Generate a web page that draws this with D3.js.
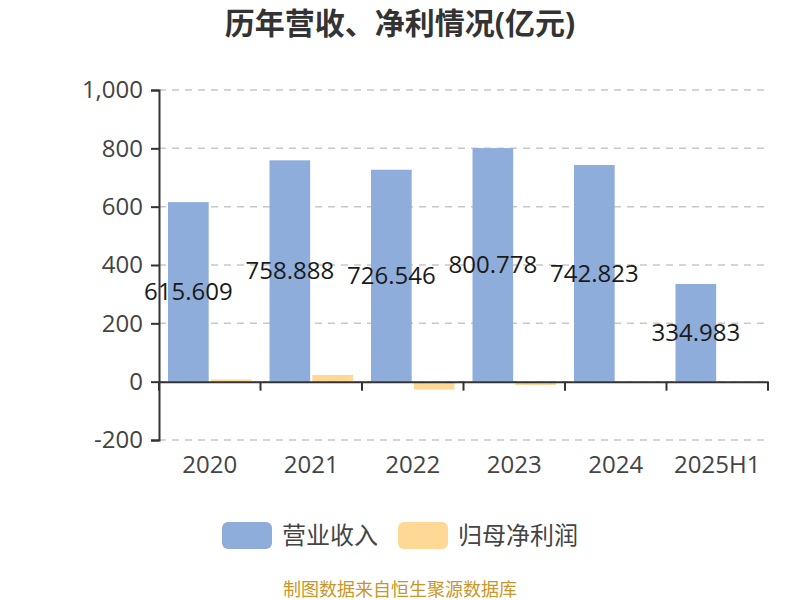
<!DOCTYPE html>
<html>
<head>
<meta charset="utf-8">
<script src="https://cdn.jsdelivr.net/npm/d3@7"></script>
<style>
  body { margin: 0; background: #fff; }
  text { font-family: "Open Sans", "Noto Sans CJK SC", sans-serif; }
</style>
</head>
<body>
<div id="chart"></div>
<script>
// chart data
const years = ["2020", "2021", "2022", "2023", "2024", "2025H1"];
const revenue = [615.609, 758.888, 726.546, 800.778, 742.823, 334.983];
const netProfit = [7.5, 23.0, -27.0, -11.5, 2.0, 1.0];
const yTicks = [-200, 0, 200, 400, 600, 800, 1000];
const seriesNames = ["营业收入", "归母净利润"];
const seriesColors = ["#8eaddb", "#fed995"];

const svgWidth = 800;
const svgHeight = 600;
const margin = { top: 90, right: 32, bottom: 160, left: 159 };
const width = svgWidth - margin.left - margin.right;
const height = svgHeight - margin.top - margin.bottom;

// plain hyphen for negatives, like the original
const fmt = d3.formatLocale({ decimal: ".", thousands: ",", grouping: [3], currency: ["", ""], minus: "-" }).format(",");

const svg = d3.select("#chart")
    .append("svg")
    .attr("width", svgWidth)
    .attr("height", svgHeight);

const g = svg.append("g")
    .attr("transform", `translate(${margin.left},${margin.top})`);

// scales
const x = d3.scaleBand()
    .domain(years)
    .range([0, width]);

const x1 = d3.scaleBand()
    .domain([0, 1])
    .range([9, x.bandwidth() - 9])
    .paddingInner(0.05);

const y = d3.scaleLinear()
    .domain([-200, 1000])
    .range([height, 0]);

// dashed grid lines
g.selectAll(".grid")
    .data(yTicks)
    .enter()
    .append("line")
    .attr("x1", 0)
    .attr("x2", width)
    .attr("y1", d => y(d))
    .attr("y2", d => y(d))
    .attr("stroke", "#c8c8c8")
    .attr("stroke-width", 1.5)
    .attr("stroke-dasharray", "7,6");

// bars, one group per year
const groups = g.selectAll(".year")
    .data(years)
    .enter()
    .append("g")
    .attr("transform", d => `translate(${x(d)},0)`);

groups.append("rect")
    .attr("x", x1(0))
    .attr("width", x1.bandwidth())
    .attr("y", (d, i) => y(revenue[i]))
    .attr("height", (d, i) => y(0) - y(revenue[i]))
    .attr("fill", seriesColors[0]);

groups.append("rect")
    .attr("x", x1(1))
    .attr("width", x1.bandwidth())
    .attr("y", (d, i) => y(Math.max(0, netProfit[i])))
    .attr("height", (d, i) => Math.abs(y(0) - y(netProfit[i])))
    .attr("fill", seriesColors[1]);

// y axis
const yAxis = g.append("g")
    .call(d3.axisLeft(y).tickValues(yTicks).tickSize(8).tickPadding(8)
        .tickFormat(fmt));
yAxis.select(".domain").attr("stroke", "#333").attr("stroke-width", 2);
yAxis.selectAll(".tick line").attr("stroke", "#333").attr("stroke-width", 2);
yAxis.selectAll(".tick text")
    .attr("font-family", "Open Sans")
    .attr("font-size", "24px")
    .attr("fill", "#444");

// x axis sits on zero
const xAxis = g.append("g")
    .attr("transform", `translate(0,${y(0)})`)
    .call(d3.axisBottom(x).tickSize(0).tickFormat(""));
xAxis.select(".domain").attr("stroke", "#333").attr("stroke-width", 2);

// tick marks between categories
g.selectAll(".xtick")
    .data(d3.range(years.length + 1))
    .enter()
    .append("line")
    .attr("x1", d => d * x.step())
    .attr("x2", d => d * x.step())
    .attr("y1", y(0))
    .attr("y2", y(0) + 9)
    .attr("stroke", "#333")
    .attr("stroke-width", 2);

// category labels below the plot
g.selectAll(".xlabel")
    .data(years)
    .enter()
    .append("text")
    .attr("x", d => x(d) + x.bandwidth() / 2)
    .attr("y", height + 25)
    .attr("dy", "0.35em")
    .attr("text-anchor", "middle")
    .attr("font-size", "24px")
    .attr("fill", "#444")
    .text(d => d);

// revenue value labels, in the middle of the bars
groups.append("text")
    .attr("x", x1(0) + x1.bandwidth() / 2)
    .attr("y", (d, i) => (y(revenue[i]) + y(0)) / 2)
    .attr("dy", "0.35em")
    .attr("text-anchor", "middle")
    .attr("font-size", "24px")
    .attr("fill", "#1a1a1a")
    .text((d, i) => revenue[i].toFixed(3));

// title
svg.append("text")
    .attr("x", 400)
    .attr("y", 34)
    .attr("text-anchor", "middle")
    .attr("font-size", "30px")
    .attr("font-weight", "bold")
    .attr("fill", "#333")
    .text("历年营收、净利情况(亿元)");

// legend
const legendX = [222, 398];
const legend = svg.selectAll(".legend")
    .data(seriesNames)
    .enter()
    .append("g")
    .attr("transform", (d, i) => `translate(${legendX[i]},522)`);

legend.append("rect")
    .attr("width", 50)
    .attr("height", 27)
    .attr("rx", 6)
    .attr("fill", (d, i) => seriesColors[i]);

legend.append("text")
    .attr("x", 60)
    .attr("y", 14)
    .attr("dy", "0.35em")
    .attr("font-size", "24px")
    .attr("fill", "#444")
    .text(d => d);

// source note
svg.append("text")
    .attr("x", 400)
    .attr("y", 596)
    .attr("text-anchor", "middle")
    .attr("font-size", "18px")
    .attr("fill", "#c9962a")
    .text("制图数据来自恒生聚源数据库");
</script>
</body>
</html>
